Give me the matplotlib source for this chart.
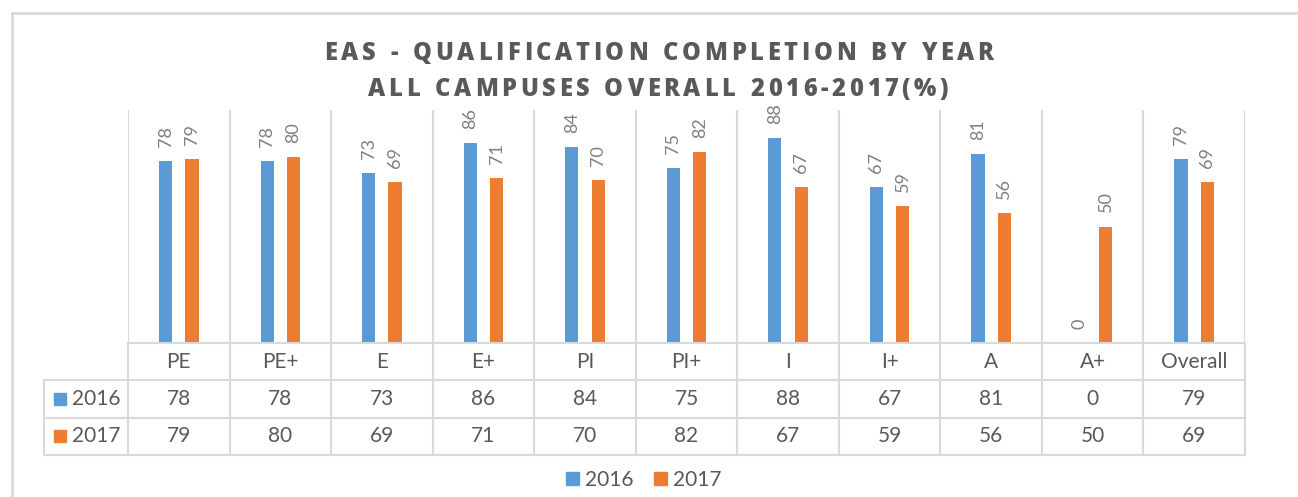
import numpy as np
import matplotlib
matplotlib.use("Agg")
import matplotlib.pyplot as plt
from matplotlib.patches import Patch, Rectangle

categories = ['PE', 'PE+', 'E', 'E+', 'PI', 'PI+', 'I', 'I+', 'A', 'A+', 'Overall']
series_names = ['2016', '2017']
vals_2016 = [78, 78, 73, 86, 84, 75, 88, 67, 81, 0, 79]
vals_2017 = [79, 80, 69, 71, 70, 82, 67, 59, 56, 50, 69]
title_lines = ['EAS - QUALIFICATION COMPLETION BY YEAR', 'ALL CAMPUSES OVERALL 2016-2017(%)']

BLUE = '#5b9bd5'
ORANGE = '#ed7d31'
GRID = '#d9d9d9'
TXT = '#595959'
LBL = '#7f7f7f'

plt.rcParams['font.family'] = ['Lato', 'DejaVu Sans']

W, H = 1298, 497
def fx(px):
    return px / W
def fy(py):
    return 1 - py / H

fig = plt.figure(figsize=(W / 100, H / 100), dpi=100)
renderer = fig.canvas.get_renderer()

# letter-spaced text, centred on xc (pixels), baseline at yb (pixels)
def spaced_text(s, xc, yb, track, **kw):
    widths = []
    for ch in s:
        t = fig.text(0, 0, ch if ch != ' ' else 'I', **kw)
        w = t.get_window_extent(renderer).width
        if ch == ' ':
            w *= 0.9
        widths.append(w)
        t.remove()
    total = sum(widths) + track * (len(s) - 1)
    xp = xc - total / 2
    for ch, w in zip(s, widths):
        if ch != ' ':
            fig.text(fx(xp), fy(yb), ch, ha='left', va='baseline', **kw)
        xp += w + track

# outer chart border
fig.add_artist(Rectangle((fx(12), -0.2), 1.2, fy(13) + 0.2, transform=fig.transFigure,
                         fill=False, ec=GRID, lw=2))

# title
tkw = dict(fontsize=17, fontweight=800, color=TXT, family=['Open Sans', 'DejaVu Sans'])
spaced_text(title_lines[0], 659, 60, 3.7, **tkw)
spaced_text(title_lines[1], 658, 96, 3.7, **tkw)

# bars
left, right, top, base = 128, 1245, 110, 343
ax = fig.add_axes([fx(left), fy(base), fx(right) - fx(left), fy(top) - fy(base)])
x = np.arange(len(categories))
bw = 0.13
b1 = ax.bar(x - bw, vals_2016, width=bw, color=BLUE)
b2 = ax.bar(x + bw, vals_2017, width=bw, color=ORANGE)
ax.set_xlim(-0.5, len(categories) - 0.5)
ax.set_ylim(0, 100)
ax.axis('off')
for e in np.arange(len(categories) + 1) - 0.5:
    ax.axvline(e, color=GRID, lw=1.5, zorder=0)

for bars, vals in [(b1, vals_2016), (b2, vals_2017)]:
    for rect, v in zip(bars, vals):
        ax.annotate(str(v), (rect.get_x() + rect.get_width() / 2, v),
                    xytext=(0, 14), textcoords='offset pixels', rotation=90,
                    ha='center', va='bottom', fontsize=13, color=LBL)

# data table
tleft, tbottom = 44, 455
colw = (right - left) / len(categories)
hdr = (left - tleft) / colw
tax = fig.add_axes([fx(tleft), fy(tbottom), fx(right) - fx(tleft), fy(base) - fy(tbottom)])
tax.set_xlim(-0.5 - hdr, len(categories) - 0.5)
tax.set_ylim(3, 0)
tax.axis('off')
n = len(categories)
tax.plot([-0.5, n - 0.5], [0, 0], color=GRID, lw=1.5, clip_on=False)
for r in [1, 2, 3]:
    tax.plot([-0.5 - hdr, n - 0.5], [r, r], color=GRID, lw=1.5, clip_on=False)
for e in np.arange(n + 1) - 0.5:
    tax.plot([e, e], [0, 3], color=GRID, lw=1.5, clip_on=False)
tax.plot([-0.5 - hdr, -0.5 - hdr], [1, 3], color=GRID, lw=1.5, clip_on=False)

for i, c in enumerate(categories):
    tax.text(i, 0.5, c, ha='center', va='center', fontsize=15, color=TXT)
for r, (name, vals, col) in enumerate([(series_names[0], vals_2016, BLUE),
                                       (series_names[1], vals_2017, ORANGE)]):
    y = r + 1.5
    for i, v in enumerate(vals):
        tax.text(i, y, str(v), ha='center', va='center', fontsize=15, color=TXT)
    tax.plot(-0.5 - hdr + 15.5 / colw, y, marker='s', ms=9, color=col, clip_on=False)
    tax.text(-0.5 - hdr + 28 / colw, y, name, ha='left', va='center', fontsize=15, color=TXT)

# legend
handles = [Patch(color=BLUE), Patch(color=ORANGE)]
fig.legend(handles, series_names, loc='center', bbox_to_anchor=(fx(644), fy(480)), ncol=2,
           frameon=False, fontsize=15, labelcolor=TXT, handlelength=0.6, handleheight=0.6,
           handletextpad=0.3, columnspacing=1.0)

fig.savefig('out.png', dpi=100)
